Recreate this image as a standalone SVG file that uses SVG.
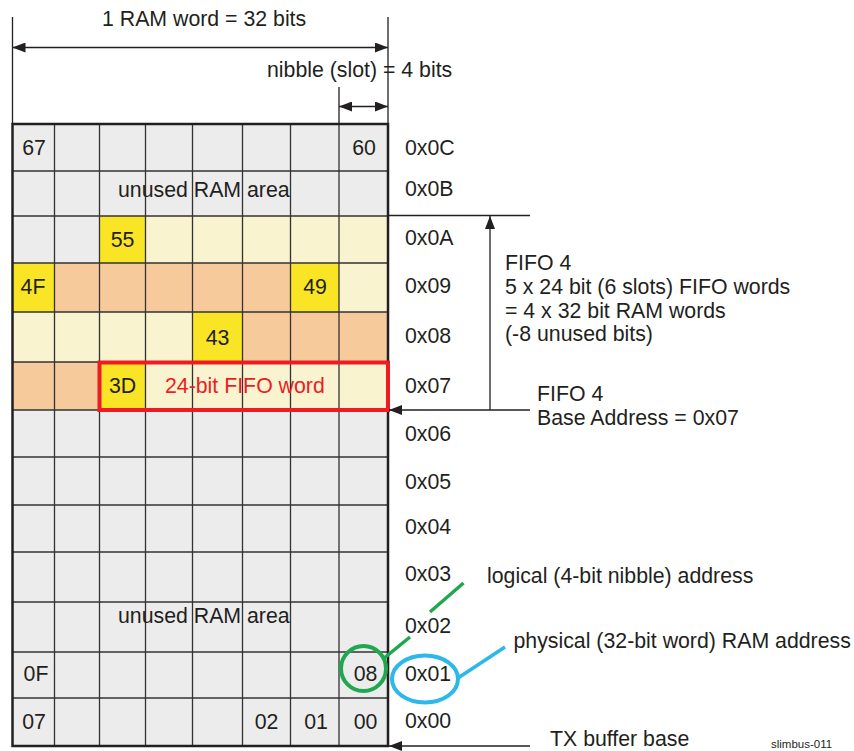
<svg xmlns="http://www.w3.org/2000/svg" width="854" height="751" viewBox="0 0 854 751">
<defs>
<style>
text{font-family:"Liberation Sans",Arial,sans-serif;font-size:21.3px;fill:#231f20}
.c{text-anchor:middle}
.gl{stroke:#333;stroke-width:1.3;fill:none}
.ln{stroke:#231f20;stroke-width:1.3;fill:none}
.gray{fill:#ececec}
.ly{fill:#faf3cf}
.pe{fill:#f7ca9c}
.ye{fill:#f9e526}
</style>
<marker id="ah" viewBox="0 0 13 10" refX="13" refY="5" markerWidth="13" markerHeight="10" markerUnits="userSpaceOnUse" orient="auto-start-reverse">
<path d="M0,0 L13,5 L0,10 z" fill="#231f20"/>
</marker>
</defs>
<rect width="854" height="751" fill="#fff"/>

<g id="ram-grid">
<rect class="gray" x="12.5" y="124" width="375.5" height="622"/>
<rect class="ye" x="99.5" y="216" width="46" height="47"/>
<rect class="ly" x="145.5" y="216" width="242.5" height="47"/>
<rect class="ye" x="12.5" y="263" width="42" height="49"/>
<rect class="pe" x="54.5" y="263" width="236" height="49"/>
<rect class="ye" x="290.5" y="263" width="48.5" height="49"/>
<rect class="ly" x="339" y="263" width="49" height="49"/>
<rect class="ly" x="12.5" y="312" width="180" height="50"/>
<rect class="ye" x="192.5" y="312" width="50" height="50"/>
<rect class="pe" x="242.5" y="312" width="145.5" height="50"/>
<rect class="pe" x="12.5" y="362" width="87" height="48"/>
<rect class="ye" x="99.5" y="362" width="46" height="48"/>
<rect class="ly" x="145.5" y="362" width="242.5" height="48"/>
<path class="gl" d="M54.5,124V746M99.5,124V746M145.5,124V746M192.5,124V746M242.5,124V746M290.5,124V746M339,124V746
M12.5,171H388M12.5,216H388M12.5,263H388M12.5,312H388M12.5,362H388M12.5,410H388M12.5,457H388M12.5,505H388M12.5,552H388M12.5,602H388M12.5,652H388M12.5,698H388"/>
<rect x="12.5" y="124" width="375.5" height="622" fill="none" stroke="#231f20" stroke-width="2.5"/>
</g>

<g id="cell-labels">
<text class="c" x="34" y="155">67</text>
<text class="c" x="364" y="155">60</text>
<text x="118" y="197">unused RAM area</text>
<text class="c" x="122.5" y="247">55</text>
<text class="c" x="33" y="294">4F</text>
<text class="c" x="315" y="294">49</text>
<text class="c" x="217.5" y="345">43</text>
<text class="c" x="122.5" y="393">3D</text>
<text x="118" y="623">unused RAM area</text>
<text class="c" x="36" y="680.5">0F</text>
<text class="c" x="365.5" y="680.5">08</text>
<text class="c" x="34" y="728.5">07</text>
<text class="c" x="266.5" y="728.5">02</text>
<text class="c" x="316" y="728.5">01</text>
<text class="c" x="365.5" y="728.5">00</text>
</g>

<g id="fifo-word">
<rect x="99.5" y="362.5" width="288.5" height="47.5" fill="none" stroke="#ed1c24" stroke-width="4"/>
<text x="165" y="393" style="fill:#ed1c24">24-bit FIFO word</text>
</g>

<g id="addresses">
<text x="405" y="155">0x0C</text>
<text x="405" y="196">0x0B</text>
<text x="405" y="244.5">0x0A</text>
<text x="405" y="292.5">0x09</text>
<text x="405" y="342.5">0x08</text>
<text x="405" y="392.5">0x07</text>
<text x="405" y="441">0x06</text>
<text x="405" y="489">0x05</text>
<text x="405" y="534">0x04</text>
<text x="405" y="581">0x03</text>
<text x="405" y="633">0x02</text>
<text x="405" y="681">0x01</text>
<text x="405" y="727.5">0x00</text>
</g>

<g id="connectors">
<path class="ln" d="M12.5,17V124M388,17V124M339,87V124"/>
<line class="ln" x1="12.5" y1="47.5" x2="388" y2="47.5" marker-start="url(#ah)" marker-end="url(#ah)"/>
<line class="ln" x1="339" y1="106.5" x2="388" y2="106.5" marker-start="url(#ah)" marker-end="url(#ah)"/>
<line class="ln" x1="388" y1="215.5" x2="530" y2="215.5"/>
<line class="ln" x1="490" y1="410" x2="490" y2="216" marker-end="url(#ah)"/>
<line class="ln" x1="530" y1="410" x2="389" y2="410" marker-end="url(#ah)"/>
<line class="ln" x1="530" y1="746" x2="389" y2="746" marker-end="url(#ah)"/>
<path d="M383,659L410,637M430,612L463.5,583" stroke="#1fa84f" stroke-width="3.5" fill="none"/>
<path d="M458,678L505,647" stroke="#2cb8e8" stroke-width="3.5" fill="none"/>
</g>

<g id="highlight-logical">
<circle cx="363.5" cy="668.5" r="22.5" fill="none" stroke="#1fa84f" stroke-width="4"/>
</g>
<g id="highlight-physical">
<ellipse cx="425" cy="679" rx="33" ry="23.5" fill="none" stroke="#2cb8e8" stroke-width="4"/>
</g>

<g id="annotations">
<text x="102" y="26">1 RAM word = 32 bits</text>
<text x="267" y="77">nibble (slot) = 4 bits</text>
<text x="505" y="269.5">FIFO 4</text>
<text x="505" y="293.5">5 x 24 bit (6 slots) FIFO words</text>
<text x="505" y="317.5">= 4 x 32 bit RAM words</text>
<text x="505" y="341">(-8 unused bits)</text>
<text x="537" y="401">FIFO 4</text>
<text x="537" y="425">Base Address = 0x07</text>
<text x="487" y="583">logical (4-bit nibble) address</text>
<text x="513.5" y="647.5">physical (32-bit word) RAM address</text>
<text x="550" y="746">TX buffer base</text>
<text x="771" y="748" style="font-size:11.5px">slimbus-011</text>
</g>
</svg>
